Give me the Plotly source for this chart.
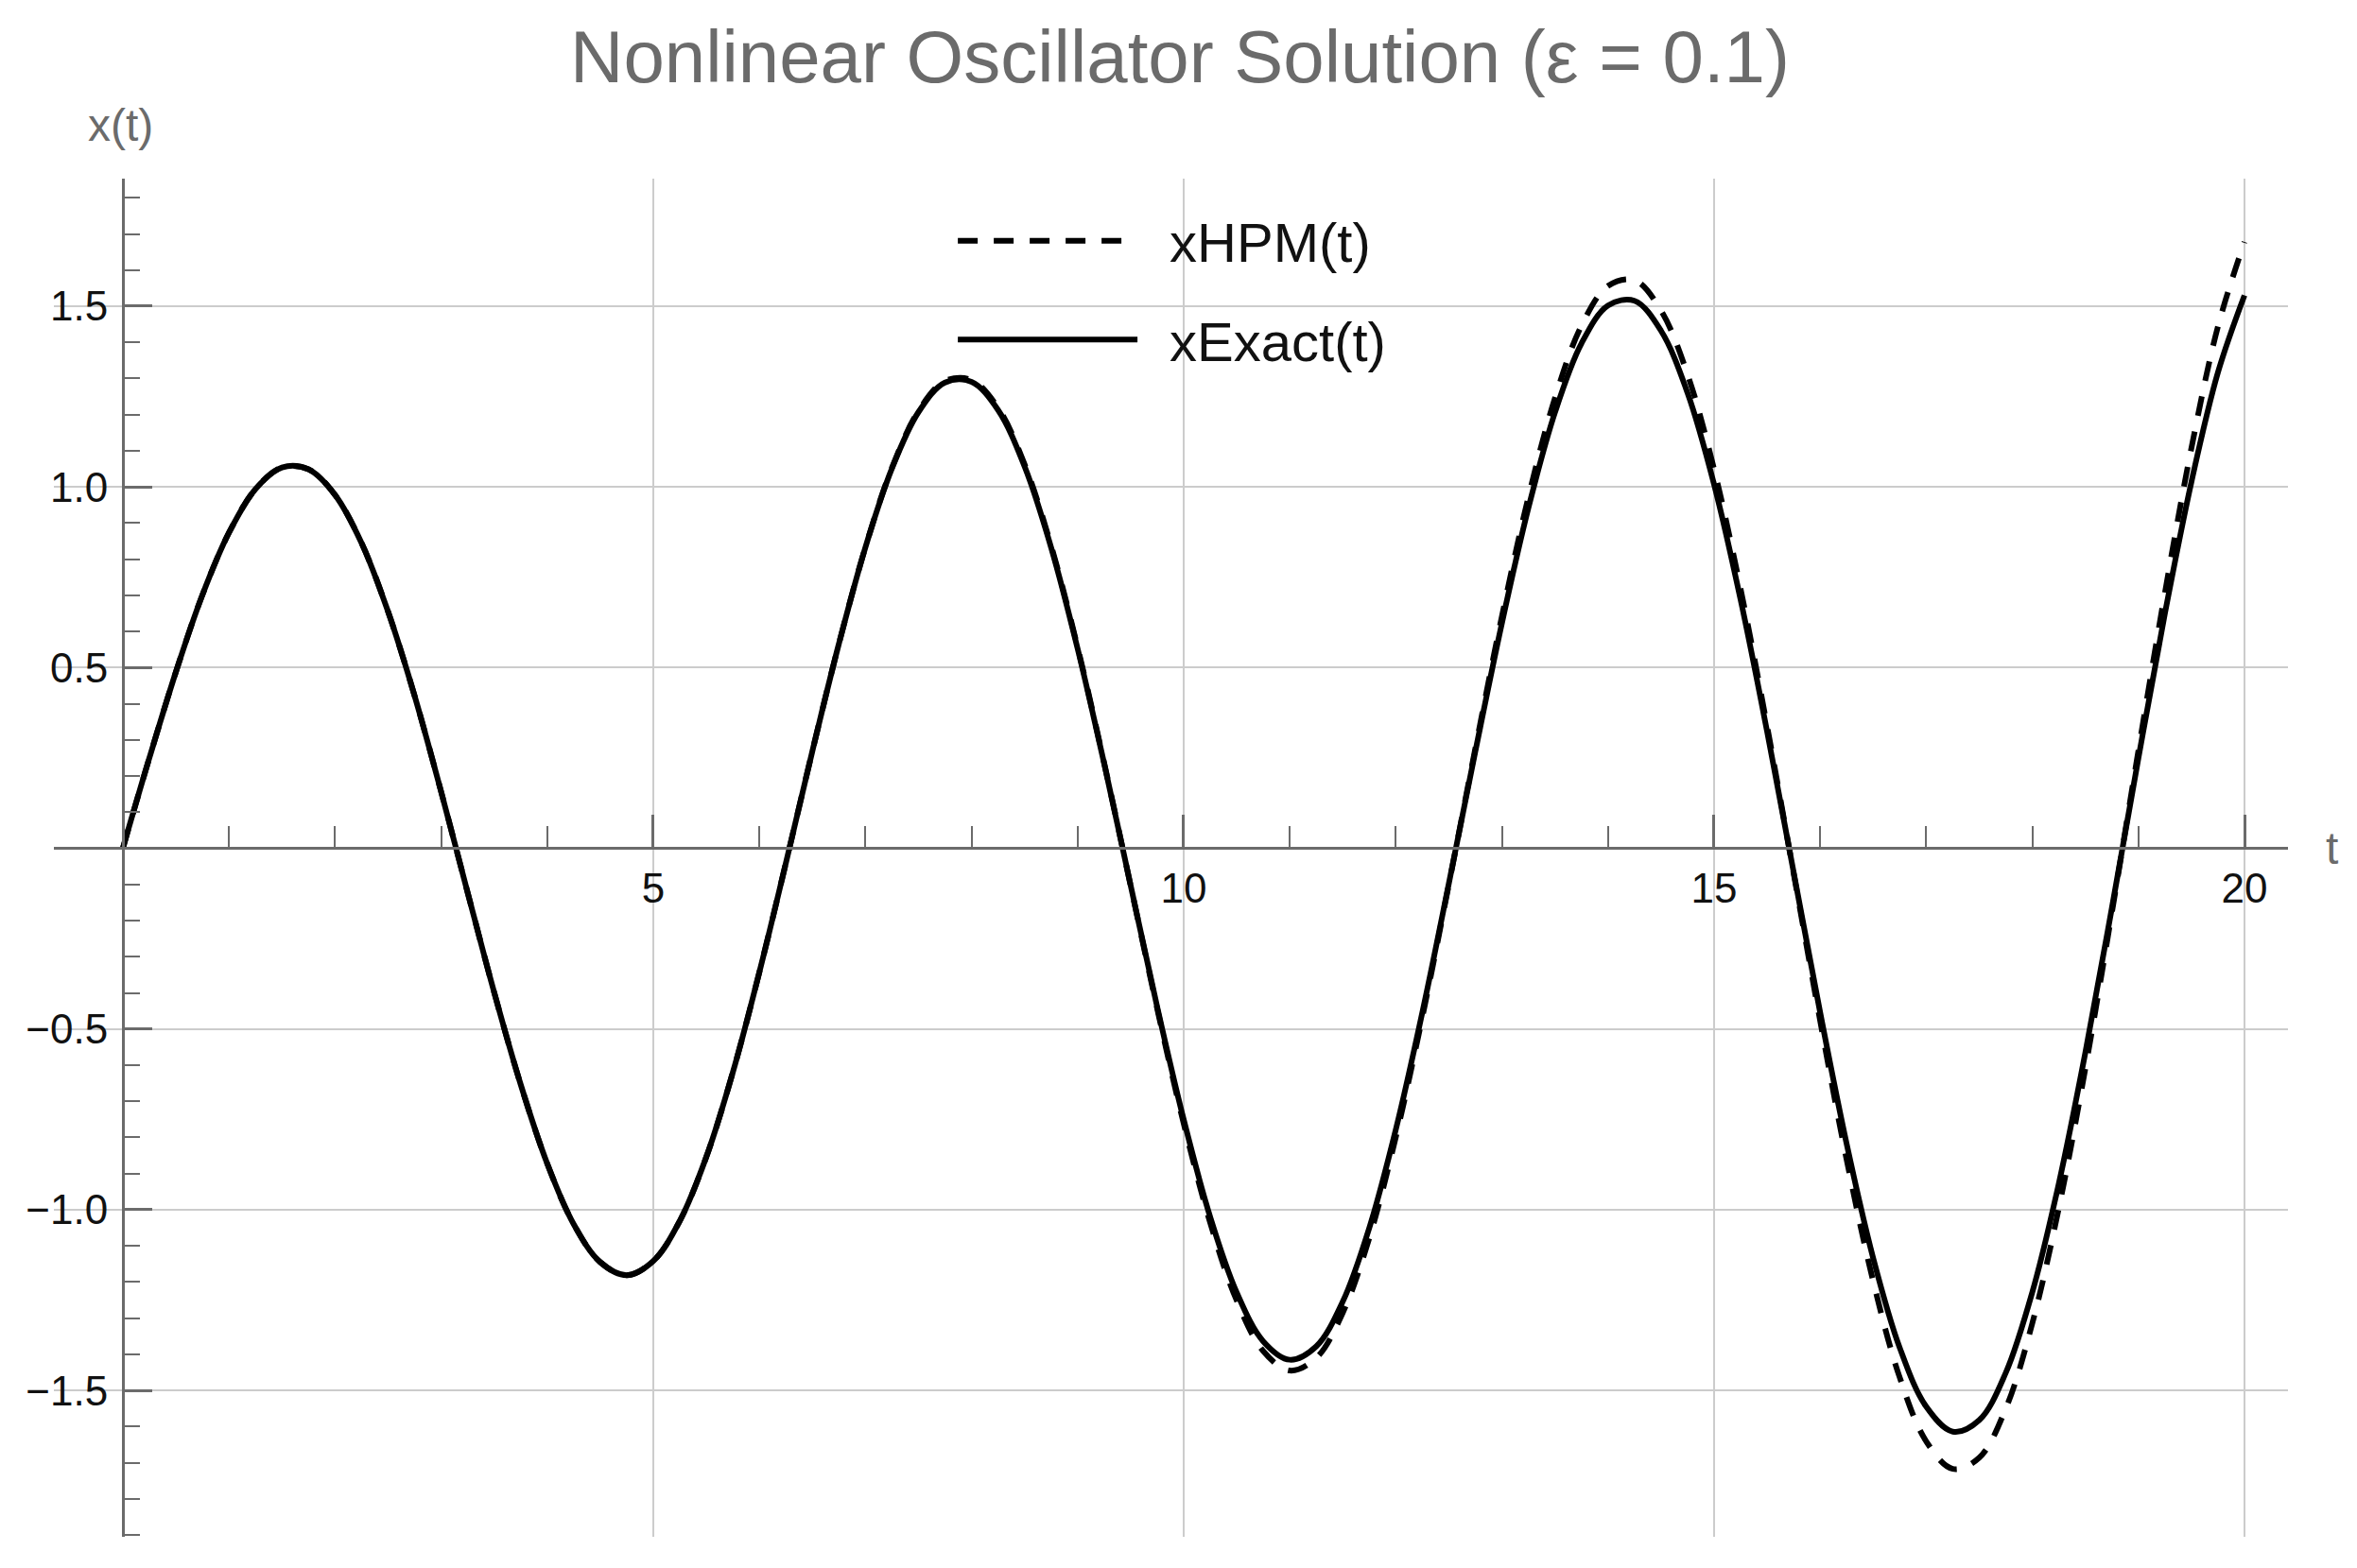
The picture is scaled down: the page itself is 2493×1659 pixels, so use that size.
import plotly.graph_objects as go

# time samples (t), every 0.25
t = [0.0, 0.25, 0.5, 0.75, 1.0, 1.25, 1.5, 1.75, 2.0, 2.25, 2.5, 2.75, 3.0, 3.25, 3.5, 3.75,
     4.0, 4.25, 4.5, 4.75, 5.0, 5.25, 5.5, 5.75, 6.0, 6.25, 6.5, 6.75, 7.0, 7.25, 7.5, 7.75,
     8.0, 8.25, 8.5, 8.75, 9.0, 9.25, 9.5, 9.75, 10.0, 10.25, 10.5, 10.75, 11.0, 11.25, 11.5,
     11.75, 12.0, 12.25, 12.5, 12.75, 13.0, 13.25, 13.5, 13.75, 14.0, 14.25, 14.5, 14.75,
     15.0, 15.25, 15.5, 15.75, 16.0, 16.25, 16.5, 16.75, 17.0, 17.25, 17.5, 17.75, 18.0,
     18.25, 18.5, 18.75, 19.0, 19.25, 19.5, 19.75, 20.0]

x_exact = [0.000, 0.250, 0.488, 0.701, 0.873, 0.994, 1.054, 1.049, 0.978, 0.845, 0.655,
           0.422, 0.157, -0.122, -0.398, -0.653, -0.872, -1.040, -1.145, -1.181, -1.142,
           -1.031, -0.854, -0.620, -0.343, -0.041, 0.269, 0.566, 0.833, 1.051, 1.207, 1.289,
           1.291, 1.213, 1.057, 0.833, 0.553, 0.235, -0.102, -0.438, -0.750, -1.020, -1.229,
           -1.364, -1.415, -1.378, -1.254, -1.050, -0.778, -0.454, -0.097, 0.269, 0.623,
           0.942, 1.206, 1.397, 1.502, 1.515, 1.432, 1.260, 1.007, 0.688, 0.323, -0.066,
           -0.454, -0.818, -1.134, -1.382, -1.545, -1.614, -1.582, -1.451, -1.228, -0.927,
           -0.565, -0.165, 0.249, 0.650, 1.014, 1.317, 1.530]

x_hpm = [0.000, 0.250, 0.488, 0.701, 0.873, 0.994, 1.054, 1.049, 0.978, 0.845, 0.655,
         0.422, 0.157, -0.122, -0.398, -0.653, -0.872, -1.040, -1.145, -1.181, -1.142,
         -1.031, -0.854, -0.620, -0.343, -0.041, 0.269, 0.566, 0.833, 1.053, 1.210, 1.293,
         1.296, 1.219, 1.063, 0.838, 0.557, 0.237, -0.103, -0.443, -0.761, -1.036, -1.251,
         -1.391, -1.445, -1.410, -1.285, -1.078, -0.799, -0.467, -0.100, 0.277, 0.642,
         0.972, 1.246, 1.446, 1.556, 1.572, 1.488, 1.311, 1.049, 0.718, 0.338, -0.069,
         -0.477, -0.862, -1.198, -1.464, -1.641, -1.717, -1.686, -1.550, -1.314, -0.995,
         -0.609, -0.178, 0.270, 0.707, 1.108, 1.444, 1.678]

x_ticks = [5, 10, 15, 20]
x_ticktext = ["5", "10", "15", "20"]
x_minor = [1, 2, 3, 4, 6, 7, 8, 9, 11, 12, 13, 14, 16, 17, 18, 19]
y_ticks = [-1.5, -1.0, -0.5, 0.5, 1.0, 1.5]
y_ticktext = ["\u22121.5", "\u22121.0", "\u22120.5", "0.5", "1.0", "1.5"]
y_minor = [-1.9, -1.8, -1.7, -1.6, -1.4, -1.3, -1.2, -1.1, -0.9, -0.8, -0.7, -0.6,
           -0.4, -0.3, -0.2, -0.1, 0.1, 0.2, 0.3, 0.4, 0.6, 0.7, 0.8, 0.9,
           1.1, 1.2, 1.3, 1.4, 1.6, 1.7, 1.8]

FONT = "Liberation Sans, Arial, sans-serif"
AX = "#6b6b6b"
GRID = "#cccccc"

W, H = 2485, 1651          # page body adds an 8px offset
ML, MR, MT, MB = 49, 73, 181, 33
PW = W - ML - MR
PH = H - MT - MB

fig = go.Figure()
fig.add_trace(go.Scatter(x=t, y=x_hpm, mode="lines", name="\u2002xHPM(t)",
                         legendgroup="a",
                         line=dict(color="black", width=6, dash="21px,17px", shape="spline")))
fig.add_trace(go.Scatter(x=t, y=x_exact, mode="lines", name="\u2002xExact(t)",
                         legendgroup="b",
                         line=dict(color="black", width=6, shape="spline")))

fig.update_layout(
    width=W, height=H,
    margin=dict(l=ML, r=MR, t=MT, b=MB),
    paper_bgcolor="white", plot_bgcolor="white",
    font=dict(family=FONT, color="#222222"),
    title=dict(text="Nonlinear Oscillator Solution (\u03b5 = 0.1)",
               font=dict(size=78, color=AX, family=FONT),
               x=1240 / W, xref="container", xanchor="center",
               y=1 - 52 / H, yref="container", yanchor="middle"),
    showlegend=True,
    legend=dict(x=0.4025, y=0.985, xanchor="left", yanchor="top",
                bgcolor="rgba(0,0,0,0)", font=dict(size=58, color="#111111", family=FONT),
                tracegroupgap=26, itemwidth=190),
    xaxis=dict(range=[-0.65, 20.41], anchor="free", position=0.507,
               showline=True, linecolor=AX, linewidth=3, zeroline=False,
               showgrid=True, gridcolor=GRID, gridwidth=2,
               tickmode="array", tickvals=x_ticks, ticktext=x_ticktext,
               ticks="inside", ticklen=34, tickwidth=3, tickcolor=AX,
               ticklabelstandoff=3,
               tickfont=dict(size=44, color="#111111", family=FONT),
               minor=dict(tickmode="array", tickvals=x_minor, ticks="inside",
                          ticklen=22, tickwidth=2, tickcolor=AX, showgrid=False)),
    yaxis=dict(range=[-1.905, 1.853], anchor="free", position=(130 - 57) / PW,
               showline=True, linecolor=AX, linewidth=3, zeroline=False,
               showgrid=True, gridcolor=GRID, gridwidth=2,
               tickmode="array", tickvals=y_ticks, ticktext=y_ticktext,
               ticks="inside", ticklen=29, tickwidth=3, tickcolor=AX,
               ticklabelstandoff=6,
               tickfont=dict(size=44, color="#111111", family=FONT),
               minor=dict(tickmode="array", tickvals=y_minor, ticks="inside",
                          ticklen=16, tickwidth=2, tickcolor=AX, showgrid=False)),
    annotations=[
        dict(text="x(t)", xref="paper", yref="paper", x=(127 - 57) / PW,
             y=(1626 - 132) / PH, xanchor="center", yanchor="middle",
             showarrow=False, font=dict(size=48, color=AX, family=FONT)),
        dict(text="t", xref="paper", yref="paper", x=(2466 - 57) / PW,
             y=0.507, xanchor="center", yanchor="middle",
             showarrow=False, font=dict(size=48, color=AX, family=FONT)),
    ],
)

fig.write_html("out.html")
